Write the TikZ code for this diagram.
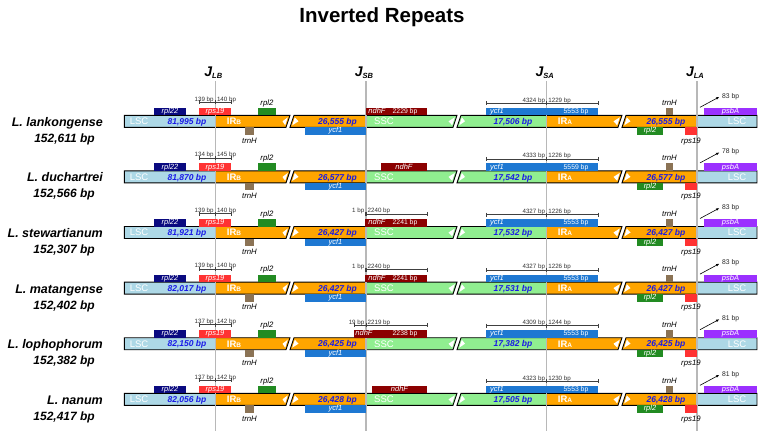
\documentclass[tikz,border=0pt]{standalone}
\usepackage{fontspec}
\setmainfont{Liberation Sans}
\usetikzlibrary{arrows.meta}
\pgfdeclarelayer{barlayer}
\pgfdeclarelayer{glayer}
\pgfsetlayers{barlayer,glayer,main}
\definecolor{lscc}{RGB}{173,216,230}
\definecolor{irc}{RGB}{255,165,0}
\definecolor{sscc}{RGB}{144,238,144}
\definecolor{rplxxii}{RGB}{10,10,128}
\definecolor{rpsc}{RGB}{255,50,50}
\definecolor{rplii}{RGB}{34,139,34}
\definecolor{trnc}{RGB}{139,115,85}
\definecolor{ycfc}{RGB}{30,120,210}
\definecolor{ndhc}{RGB}{139,0,0}
\definecolor{psbc}{RGB}{155,48,255}
\definecolor{bpblue}{RGB}{25,25,230}
\tikzset{
  barline/.style={draw=black, line width=0.9pt, line join=miter},
  genebox/.style={inner sep=0pt, outer sep=0pt, minimum height=7.5pt, text height=5.2pt, text depth=1.5pt, text=white, font=\fontsize{7.5}{7.5}\selectfont\itshape},
  boxital/.style={inner sep=0pt, text height=5.2pt, text depth=1.5pt, text=white, font=\fontsize{7.5}{7.5}\selectfont\itshape},
  boxnum/.style={inner sep=0pt, text height=5.2pt, text depth=1.5pt, text=white, font=\fontsize{6.8}{6.8}\selectfont},
  glabel/.style={inner sep=0pt, anchor=base, text=black, font=\fontsize{7.8}{7.8}\selectfont\itshape},
  regtxt/.style={inner sep=0pt, anchor=base, text=white, font=\fontsize{9.5}{9.5}\selectfont},
  irtxt/.style={inner sep=0pt, anchor=base, text=white, font=\fontsize{9.5}{9.5}\selectfont\bfseries},
  bptxt/.style={inner sep=0pt, anchor=base, text=bpblue, font=\fontsize{8.5}{8.5}\selectfont\bfseries\itshape},
  dimln/.style={draw=black!75, line width=0.45pt},
  dimtxt/.style={inner sep=0pt, text=black!80, font=\fontsize{6.2}{6.2}\selectfont},
  spname/.style={inner sep=0pt, anchor=base east, font=\fontsize{12.5}{12.5}\selectfont\bfseries\itshape},
  sptot/.style={inner sep=0pt, anchor=base east, font=\fontsize{12}{12}\selectfont\bfseries\itshape},
  jlab/.style={inner sep=0pt, anchor=base, font=\fontsize{14}{14}\selectfont\bfseries\itshape},
  gline/.style={draw=black!28, line width=1.1pt},
  arr/.style={draw=black, line width=0.6pt, -{Latex[length=3.5pt,width=2.6pt]}},
  arrtxt/.style={inner sep=0pt, anchor=west, text=black!85, font=\fontsize{6.8}{6.8}\selectfont},
}
\newcommand\gbox[6]{\node[genebox, fill=#2, minimum width={#4-#3}] (#1) at ({(#3+#4)/2},#5) {#6};}
\newcommand\dimbar[7]{%
  \coordinate (#1-l) at (#2,#5);
  \coordinate (#1-r) at (#4,#5);
  \coordinate (#1-m) at (#3,#5);
  \draw[dimln] (#1-l) -- (#1-r);
  \draw[dimln] ([yshift=2pt]#1-l) -- ([yshift=-2pt]#1-l);
  \draw[dimln] ([yshift=2pt]#1-r) -- ([yshift=-2pt]#1-r);
  \draw[dimln] ([yshift=2pt]#1-m) -- ([yshift=-2pt]#1-m);
  \node[dimtxt, anchor=base east] (#1-lt) at ({#3-1.5},{#5-1.2}) {#6};
  \node[dimtxt, anchor=base west] (#1-rt) at ({#3+1.5},{#5-1.2}) {#7};
}
\newcommand\barbody[4]{%
  \begin{pgfonlayer}{barlayer}
    \fill[lscc] (124.3,-6) rectangle (215.3,6);
    \fill[irc] (215.3,-6) -- (290,-6) -- (286,6) -- (215.3,6) -- cycle;
    \fill[irc] (294,-6) -- (366,-6) -- (366,6) -- (290,6) -- cycle;
    \fill[sscc] (366,-6) -- (457,-6) -- (453,6) -- (366,6) -- cycle;
    \fill[sscc] (461,-6) -- (546.7,-6) -- (546.7,6) -- (457,6) -- cycle;
    \fill[irc] (546.7,-6) -- (622,-6) -- (618,6) -- (546.7,6) -- cycle;
    \fill[irc] (626,-6) -- (697,-6) -- (697,6) -- (622,6) -- cycle;
    \fill[lscc] (697,-6) rectangle (757,6);
    \fill[white] (282.5,0) -- (287.8,-4) -- (285.2,4) -- cycle;
    \fill[white] (298.5,0) -- (294.8,-4) -- (292.2,4) -- cycle;
    \fill[white] (448.5,0) -- (454.8,-4) -- (452.2,4) -- cycle;
    \fill[white] (465,0) -- (461.8,-4) -- (459.2,4) -- cycle;
    \fill[white] (613.5,0) -- (619.8,-4) -- (617.2,4) -- cycle;
    \fill[white] (630.5,0) -- (626.8,-4) -- (624.2,4) -- cycle;
    \draw[barline] (124.3,-6) -- (290,-6) -- (286,6) -- (124.3,6) -- cycle;
    \draw[barline] (294,-6) -- (457,-6) -- (453,6) -- (290,6) -- cycle;
    \draw[barline] (461,-6) -- (622,-6) -- (618,6) -- (457,6) -- cycle;
    \draw[barline] (626,-6) -- (757,-6) -- (757,6) -- (622,6) -- cycle;
  \end{pgfonlayer}
  \node[regtxt] (#1-lscL) at (139,3.4) {LSC};
  \node[bptxt] (#1-lscbp) at (187,3.1) {#2 bp};
  \node[irtxt] (#1-irb) at (234,3.4) {IR{\fontsize{6.5}{6.5}\selectfont B}};
  \node[bptxt] (#1-irbbp) at (337.5,3.1) {#3 bp};
  \node[regtxt] (#1-ssc) at (384,3.4) {SSC};
  \node[bptxt] (#1-sscbp) at (513,3.1) {#4 bp};
  \node[irtxt] (#1-ira) at (565,3.4) {IR{\fontsize{6.5}{6.5}\selectfont A}};
  \node[bptxt] (#1-irabp) at (666,3.1) {#3 bp};
  \node[regtxt] (#1-lscR) at (737,3.4) {LSC};
}
\newcommand\rowinfo[3]{%
  \node[spname] (#1-name) at (103,5) {#2};
  \node[sptot] (#1-tot) at (95,21) {#3};
}
\newcommand\rowgenes[7]{%
  \gbox{#1-rpl22}{rplxxii}{154}{186}{-9.75}{rpl22}
  \gbox{#1-rps19a}{rpsc}{199}{231}{-9.75}{rps19}
  \gbox{#1-rpl2a}{rplii}{258}{276}{-9.75}{}
  \node[glabel] (#1-rpl2alab) at (267,-16.2) {rpl2};
  \gbox{#1-trnHa}{trnc}{245}{254}{9.75}{}
  \node[glabel] (#1-trnHalab) at (249.5,21.8) {trnH};
  \dimbar{#1-dlb}{199}{215.3}{231}{-19}{#2}{#3}
  \gbox{#1-ycf1a}{ycfc}{305}{366}{9.75}{ycf1}
  \gbox{#1-ycf1b}{ycfc}{486}{598}{-9.75}{}
  \node[boxital] (#1-ycf1bt) at (497,-9.75) {ycf1};
  \node[boxnum] (#1-ycf1bn) at (576,-9.75) {#6 bp};
  \dimbar{#1-dsa}{486}{546.7}{598}{-18}{#4}{#5}
  \gbox{#1-trnHb}{trnc}{666}{673}{-9.75}{}
  \node[glabel] (#1-trnHblab) at (669.5,-16.2) {trnH};
  \gbox{#1-rpl2b}{rplii}{637}{663}{9.75}{rpl2}
  \gbox{#1-rps19b}{rpsc}{685}{697}{9.75}{}
  \node[glabel] (#1-rps19blab) at (691,21.8) {rps19};
  \gbox{#1-psbA}{psbc}{704}{757}{-9.75}{psbA}
  \coordinate (#1-arrs) at (700,-14);
  \coordinate (#1-arre) at (719.5,-24.5);
  \draw[arr] (#1-arrs) -- (#1-arre);
  \node[arrtxt] (#1-arrt) at (722,-25) {#7 bp};
}
\begin{document}
\begin{tikzpicture}[x=1pt,y=-1pt]
\begin{pgfonlayer}{barlayer}
\fill[white] (0,0) rectangle (764,431);
\end{pgfonlayer}
\useasboundingbox (0,0) rectangle (764,431);
\node[inner sep=0pt, anchor=base, font=\fontsize{20.5}{20.5}\selectfont\bfseries] (title) at (382,22.5) {Inverted Repeats};
\node[jlab] (jlb) at (213.3,76.7) {J\raisebox{-1.6pt}{\fontsize{7.5}{7.5}\selectfont LB}};
\node[jlab] (jsb) at (364,76.7) {J\raisebox{-1.6pt}{\fontsize{7.5}{7.5}\selectfont SB}};
\node[jlab] (jsa) at (544.7,76.7) {J\raisebox{-1.6pt}{\fontsize{7.5}{7.5}\selectfont SA}};
\node[jlab] (jla) at (695,76.7) {J\raisebox{-1.6pt}{\fontsize{7.5}{7.5}\selectfont LA}};
\begin{pgfonlayer}{glayer}
\coordinate (glb-t) at (215.3,81); \coordinate (glb-b) at (215.3,431);
\coordinate (gsb-t) at (366,81); \coordinate (gsb-b) at (366,431);
\coordinate (gsa-t) at (546.7,81); \coordinate (gsa-b) at (546.7,431);
\coordinate (gla-t) at (697,81); \coordinate (gla-b) at (697,431);
\draw[gline] (glb-t) -- (glb-b);
\draw[gline] (gsb-t) -- (gsb-b);
\draw[gline] (gsa-t) -- (gsa-b);
\draw[gline] (gla-t) -- (gla-b);
\end{pgfonlayer}
% row 1
\begin{scope}[shift={(0,121.3)}]
\barbody{r1}{81,995}{26,555}{17,506}
\rowinfo{r1}{L. lankongense}{152,611 bp}
\rowgenes{r1}{139 bp}{140 bp}{4324 bp}{1229 bp}{5553}{83}
\gbox{r1-ndhF}{ndhc}{366}{427}{-9.75}{}
\node[boxital] (r1-ndhFt) at (377,-9.75) {ndhF};
\node[boxnum] (r1-ndhFn) at (405,-9.75) {2229 bp};
\end{scope}
% row 2
\begin{scope}[shift={(0,176.9)}]
\barbody{r2}{81,870}{26,577}{17,542}
\rowinfo{r2}{L. duchartrei}{152,566 bp}
\rowgenes{r2}{134 bp}{145 bp}{4333 bp}{1226 bp}{5559}{78}
\gbox{r2-ndhF}{ndhc}{381}{427}{-9.75}{ndhF}
\end{scope}
% row 3
\begin{scope}[shift={(0,232.5)}]
\barbody{r3}{81,921}{26,427}{17,532}
\rowinfo{r3}{L. stewartianum}{152,307 bp}
\rowgenes{r3}{139 bp}{140 bp}{4327 bp}{1226 bp}{5553}{83}
\gbox{r3-ndhF}{ndhc}{365}{427}{-9.75}{}
\node[boxital] (r3-ndhFt) at (377,-9.75) {ndhF};
\node[boxnum] (r3-ndhFn) at (405,-9.75) {2241 bp};
\dimbar{r3-dsb}{365}{366}{427}{-18.5}{1 bp}{2240 bp}
\end{scope}
% row 4
\begin{scope}[shift={(0,288.1)}]
\barbody{r4}{82,017}{26,427}{17,531}
\rowinfo{r4}{L. matangense}{152,402 bp}
\rowgenes{r4}{139 bp}{140 bp}{4327 bp}{1226 bp}{5553}{83}
\gbox{r4-ndhF}{ndhc}{365}{427}{-9.75}{}
\node[boxital] (r4-ndhFt) at (377,-9.75) {ndhF};
\node[boxnum] (r4-ndhFn) at (405,-9.75) {2241 bp};
\dimbar{r4-dsb}{365}{366}{427}{-18.5}{1 bp}{2240 bp}
\end{scope}
% row 5
\begin{scope}[shift={(0,343.7)}]
\barbody{r5}{82,150}{26,425}{17,382}
\rowinfo{r5}{L. lophophorum}{152,382 bp}
\rowgenes{r5}{137 bp}{142 bp}{4309 bp}{1244 bp}{5553}{81}
\gbox{r5-ndhF}{ndhc}{354}{427}{-9.75}{}
\node[boxital] (r5-ndhFt) at (364,-9.75) {ndhF};
\node[boxnum] (r5-ndhFn) at (405,-9.75) {2238 bp};
\dimbar{r5-dsb}{354}{366}{427}{-18.5}{19 bp}{2219 bp}
\end{scope}
% row 6
\begin{scope}[shift={(0,399.3)}]
\barbody{r6}{82,056}{26,428}{17,505}
\rowinfo{r6}{L. nanum}{152,417 bp}
\rowgenes{r6}{137 bp}{142 bp}{4323 bp}{1230 bp}{5553}{81}
\gbox{r6-ndhF}{ndhc}{372}{427}{-9.75}{ndhF}
\end{scope}
\end{tikzpicture}
\end{document}
